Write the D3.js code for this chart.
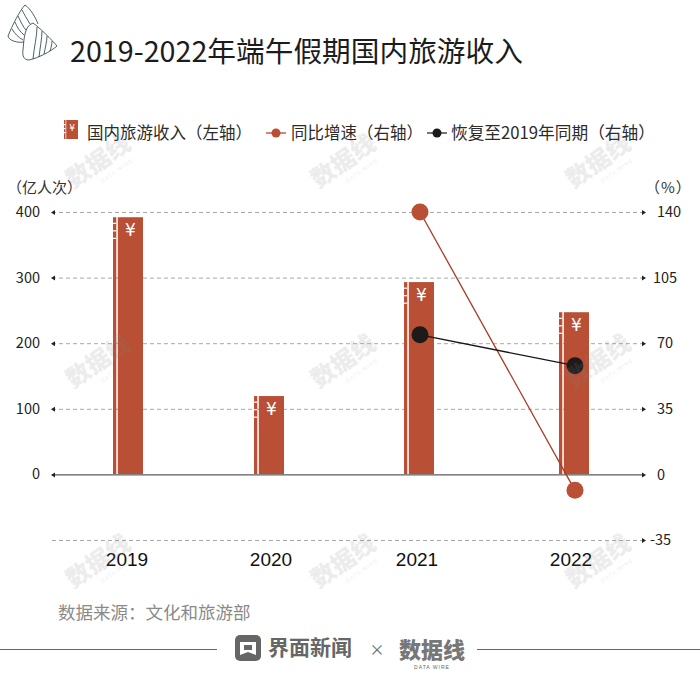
<!DOCTYPE html>
<html>
<head>
<meta charset="utf-8">
<script src="https://cdn.jsdelivr.net/npm/d3@7"></script>
<style>
  html, body { margin: 0; padding: 0; background: #fff; }
  text { font-family: "Noto Sans CJK SC", "Liberation Sans", sans-serif; }
</style>
</head>
<body>
<div id="chart"></div>
<script>
const years = ["2019", "2020", "2021", "2022"];
const income = [392, 119, 293, 247];
const yoy = [null, null, 140, -8.5];
const recovery = [null, null, 74.5, 58];
const leftTicks = [0, 100, 200, 300, 400];
const rightTicks = [-35, 0, 35, 70, 105, 140];

const legendLabels = ["国内旅游收入（左轴）", "同比增速（右轴）", "恢复至2019年同期（右轴）"];

const RED = "#b94f34", LINE_RED = "#a53c26", DARK = "#1e1a1a", GRID = "#a8a8a8";

const svg = d3.select("#chart").append("svg")
    .attr("width", 700)
    .attr("height", 700)
    .style("display", "block");

// the bars are not evenly spaced in the original
const x = d3.scaleOrdinal().domain(years).range([128, 269, 419, 574]);
const yLeft = d3.scaleLinear().domain([0, 400]).range([474, 212]);
const yRight = d3.scaleLinear().domain([-35, 140]).range([540, 212]);
const BAR_W = 30;
const X0 = 52, X1 = 645;

// title + zongzi icon
svg.append("text")
    .attr("x", 70).attr("y", 62)
    .attr("font-size", 28.7).attr("fill", "#1c1c1c")
    .text("2019-2022年端午假期国内旅游收入");

const icon = svg.append("g")
    .attr("fill", "none").attr("stroke", "#1f3a3d").attr("stroke-width", 0.8);
icon.append("path").attr("d", "M25 5 C20 10 12 26 8 36 C9 41 18 43 24 42 M25 5 C30 8 36 18 38 24");
icon.append("path").attr("fill", "#fff").attr("d", "M33 23 C40 28 52 40 57 46 C50 52 38 58 29 60 C24 60 22 56 23 50 C24 40 24 26 33 23 Z");
["M22 10 C24 14 27 19 30 24", "M18 16 C21 22 23 27 26 30", "M15 22 C17 27 20 32 24 35", "M12 29 C15 34 18 37 23 40",
 "M37 27 C37 36 34 48 33 59", "M42 31 C42 38 40 48 39 57", "M47 36 C47 41 45 49 44 54", "M52 41 C52 44 51 48 50 51"]
  .forEach(d => icon.append("path").attr("d", d));

// draws the bar shape with the strip on its left, used for the bars and the legend
function drawBar(g, left, top, w, h, notch, yenSize, yenDy) {
    const strip = w * 0.11, gap = w * 0.05;
    g.append("rect").attr("x", left).attr("y", top).attr("width", strip).attr("height", h).attr("fill", RED);
    g.append("rect").attr("x", left + strip + gap).attr("y", top).attr("width", w - strip - gap).attr("height", h).attr("fill", RED);
    notch.forEach(n => {
        g.append("rect").attr("x", left).attr("y", top + n).attr("width", strip).attr("height", 1.2).attr("fill", "#fff");
    });
    g.append("text")
        .attr("x", left + strip + gap + (w - strip - gap) / 2).attr("y", top + yenDy)
        .attr("text-anchor", "middle")
        .attr("font-size", yenSize).attr("fill", "#fff")
        .style("font-family", "DejaVu Sans")
        .text("¥");
}

// legend
const legend = svg.append("g");
drawBar(legend, 64, 120, 14, 19, [4, 8, 12], 9, 11);
legend.append("text").attr("x", 87).attr("y", 138.5).attr("font-size", 16.5).attr("fill", "#2b2b2b").text(legendLabels[0]);

legend.append("line").attr("x1", 266).attr("x2", 286).attr("y1", 133).attr("y2", 133).attr("stroke", LINE_RED).attr("stroke-width", 1.2);
legend.append("circle").attr("cx", 276).attr("cy", 133).attr("r", 4.5).attr("fill", RED);
legend.append("text").attr("x", 291).attr("y", 138.5).attr("font-size", 16.5).attr("fill", "#2b2b2b").text(legendLabels[1]);

legend.append("line").attr("x1", 427).attr("x2", 447).attr("y1", 133).attr("y2", 133).attr("stroke", DARK).attr("stroke-width", 1.2);
legend.append("circle").attr("cx", 437).attr("cy", 133).attr("r", 4.5).attr("fill", DARK);
legend.append("text").attr("x", 451).attr("y", 138.5).attr("font-size", 16.7).attr("fill", "#2b2b2b").text(legendLabels[2]);

// axis units
svg.append("text").attr("x", 7).attr("y", 193).attr("font-size", 15).attr("fill", "#333").text("（亿人次）");
svg.append("text").attr("x", 645).attr("y", 193).attr("font-size", 15).attr("letter-spacing", 1).attr("fill", "#333").text("（%）");

// gridlines, from the right axis since it has every level
const grid = svg.append("g").call(
    d3.axisRight(yRight).tickValues(rightTicks).tickSize(X1 - X0).tickFormat("")
).attr("transform", `translate(${X0},0)`);
grid.select(".domain").remove();
grid.selectAll(".tick line")
    .attr("stroke", d => d === 0 ? "#333" : GRID)
    .attr("stroke-width", 1)
    .attr("stroke-dasharray", d => d === 0 ? null : "4 3");

// small arrow heads at both ends of every gridline
rightTicks.forEach(t => {
    const yy = yRight(t) + 0.5;
    svg.append("path").attr("d", `M${X1 - 3} ${yy - 2.5} L${X1 + 1} ${yy} L${X1 - 3} ${yy + 2.5} Z`).attr("fill", "#222");
    if (t >= 0) svg.append("path").attr("d", `M${X0 + 3} ${yy - 2.5} L${X0 - 1} ${yy} L${X0 + 3} ${yy + 2.5} Z`).attr("fill", "#222");
});

// left axis labels
const axisL = svg.append("g").attr("transform", "translate(40,0)")
    .call(d3.axisLeft(yLeft).tickValues(leftTicks).tickSize(0).tickPadding(0));
axisL.select(".domain").remove();
axisL.selectAll("text").attr("font-size", 14.5).attr("fill", "#222").style("font-family", "Noto Sans CJK SC");

// right axis labels
const axisR = svg.append("g").attr("transform", "translate(657,0)")
    .call(d3.axisRight(yRight).tickValues(rightTicks).tickSize(0).tickPadding(0).tickFormat(d => String(d)));
axisR.select(".domain").remove();
axisR.selectAll("text").attr("font-size", 14.5).attr("fill", "#222").style("font-family", "Noto Sans CJK SC")
    .attr("dx", d => d === 105 ? -4 : d === -35 ? -7 : 0);

// bars
years.forEach((yr, i) => {
    const top = yLeft(income[i]);
    drawBar(svg.append("g"), x(yr) - BAR_W / 2, top, BAR_W, yLeft(0) - top, [5.5, 13, 20.5], 17, 19);
});

// lines, the points sit about a pixel right of the bar centres
const POINT_DX = 1;
const line = scale => d3.line()
    .defined(d => d.v !== null)
    .x(d => x(d.yr) + POINT_DX)
    .y(d => scale(d.v));

[[yoy, LINE_RED, RED, 8.5], [recovery, "#1a1414", DARK, 8.5]].forEach(([vals, stroke, fill, r]) => {
    const pts = years.map((yr, i) => ({ yr, v: vals[i] }));
    svg.append("path").datum(pts)
        .attr("d", line(yRight))
        .attr("fill", "none").attr("stroke", stroke).attr("stroke-width", 1.3);
    svg.selectAll(null).data(pts.filter(d => d.v !== null)).enter().append("circle")
        .attr("cx", d => x(d.yr) + POINT_DX).attr("cy", d => yRight(d.v))
        .attr("r", r).attr("fill", fill);
});

// x labels sit slightly off the bar centres in the original
const labelNudge = [-1, 2, -2, -3];
svg.selectAll(null).data(years).enter().append("text")
    .attr("x", (d, i) => x(d) + labelNudge[i]).attr("y", 566)
    .attr("text-anchor", "middle")
    .attr("font-size", 19).attr("fill", "#111")
    .style("font-family", "Liberation Sans")
    .text(d => d);

// source
svg.append("text").attr("x", 58).attr("y", 619).attr("font-size", 17.5).attr("fill", "#8a8a8a").text("数据来源：文化和旅游部");

// footer
svg.append("line").attr("x1", 0).attr("x2", 217).attr("y1", 649.5).attr("y2", 649.5).attr("stroke", "#666");
svg.append("line").attr("x1", 477).attr("x2", 700).attr("y1", 649.5).attr("y2", 649.5).attr("stroke", "#666");
svg.append("rect").attr("x", 235).attr("y", 635).attr("width", 26).attr("height", 26).attr("rx", 5).attr("fill", "#666");
svg.append("path")
    .attr("d", "M240 642 H256 V655 L248 652 L240 655 Z M244 645 V650 H252 V645 Z")
    .attr("fill", "#fff").attr("fill-rule", "evenodd");
svg.append("text").attr("x", 268).attr("y", 655).attr("font-size", 21).attr("font-weight", 700).attr("fill", "#666").text("界面新闻");
svg.append("text").attr("x", 377).attr("y", 655).attr("text-anchor", "middle").attr("font-size", 15).attr("fill", "#666").text("×");
svg.append("text").attr("x", 432).attr("y", 658).attr("text-anchor", "middle").attr("font-size", 22).attr("font-weight", 900).attr("fill", "#777").text("数据线");
svg.append("text").attr("x", 432).attr("y", 669).attr("text-anchor", "middle").attr("font-size", 5).attr("fill", "#666").attr("letter-spacing", 1).style("font-family", "Liberation Sans").text("DATA WIRE");

// watermarks on top of everything
const marks = [[103, 168], [348, 168], [603, 168], [103, 368], [348, 368], [603, 368], [103, 568], [348, 568], [603, 568]];
marks.forEach(([mx, my]) => {
    const m = svg.append("g").attr("transform", `translate(${mx},${my}) rotate(-35)`).attr("fill", "#888").attr("opacity", 0.15);
    m.append("text").attr("text-anchor", "middle").attr("font-size", 24).attr("font-weight", 900).text("数据线");
    m.append("text").attr("y", 12).attr("x", 10).attr("text-anchor", "middle").attr("font-size", 5.5).attr("letter-spacing", 1).style("font-family", "Liberation Sans").text("DATA WIRE");
});
</script>
</body>
</html>
